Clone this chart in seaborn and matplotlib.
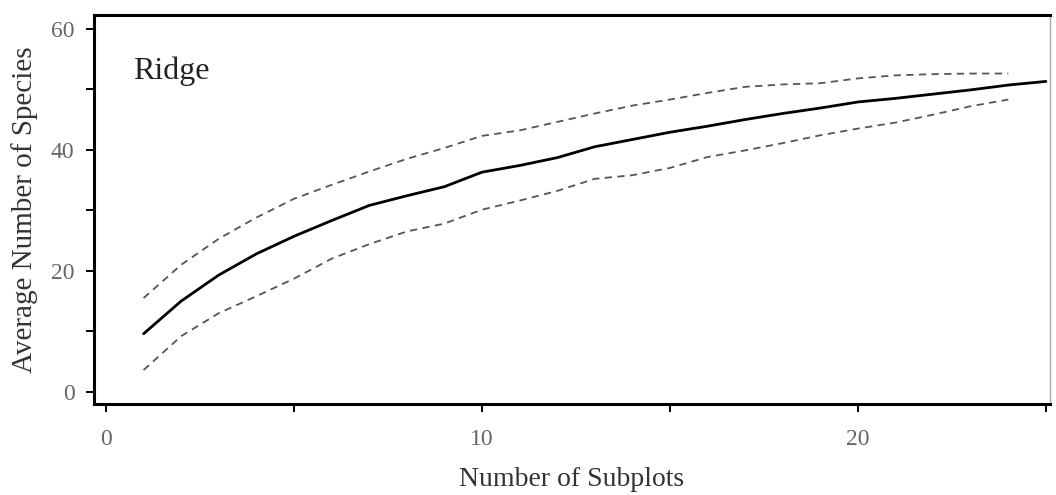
import numpy as np
import pandas as pd
import matplotlib
matplotlib.use("Agg")
import matplotlib.pyplot as plt
from matplotlib.ticker import MultipleLocator
import seaborn as sns

subplots = list(range(1, 26))
mean_species = [9.6, 15.0, 19.3, 22.8, 25.7, 28.3, 30.8, 32.4, 33.9, 36.3,
                37.4, 38.7, 40.5, 41.7, 42.9, 43.9, 45.0, 46.0, 46.9, 47.9,
                48.5, 49.2, 49.9, 50.7, 51.3]
ci_subplots = list(range(1, 25))
upper_ci = [15.5, 21.0, 25.3, 28.8, 31.9, 34.2, 36.4, 38.5, 40.3, 42.3,
            43.2, 44.6, 46.0, 47.3, 48.3, 49.4, 50.4, 50.8, 51.0, 51.8,
            52.3, 52.5, 52.6, 52.6]
lower_ci = [3.6, 9.2, 13.0, 15.8, 18.7, 22.0, 24.4, 26.5, 27.8, 30.1,
            31.6, 33.2, 35.2, 35.8, 37.0, 38.8, 39.9, 41.1, 42.4, 43.5,
            44.5, 45.8, 47.2, 48.3]

sns.set_style("ticks")
plt.rcParams['font.family'] = ['Liberation Serif', 'DejaVu Serif']

fig = plt.figure(figsize=(10.56, 4.95), dpi=100)
ax = fig.add_axes([0.089, 0.184, 0.905, 0.786])

df_mean = pd.DataFrame({"x": subplots, "y": mean_species})
df_up = pd.DataFrame({"x": ci_subplots, "y": upper_ci})
df_lo = pd.DataFrame({"x": ci_subplots, "y": lower_ci})

sns.lineplot(data=df_up, x="x", y="y", ax=ax, color="#555555", lw=1.3,
             linestyle=(0, (4, 3)))
sns.lineplot(data=df_lo, x="x", y="y", ax=ax, color="#555555", lw=1.3,
             linestyle=(0, (4, 3)))
sns.lineplot(data=df_mean, x="x", y="y", ax=ax, color="black", lw=2.0)

ax.set_xlim(-0.32, 25.1)
ax.set_ylim(-2, 62.3)
ax.xaxis.set_major_locator(MultipleLocator(10))
ax.xaxis.set_minor_locator(MultipleLocator(5))
ax.yaxis.set_major_locator(MultipleLocator(20))
ax.yaxis.set_minor_locator(MultipleLocator(10))
ax.tick_params(which="both", direction="out", color="black", width=1.4, length=6)
ax.tick_params(axis="x", which="major", labelsize=17, labelcolor="#666666", pad=12)
ax.tick_params(axis="y", which="major", labelsize=17, labelcolor="#666666", pad=8)

for side in ["left", "bottom", "top"]:
    ax.spines[side].set_linewidth(2.2)
    ax.spines[side].set_color("black")
ax.spines["right"].set_linewidth(1.0)
ax.spines["right"].set_color("#aaaaaa")

ax.set_xlabel("Number of Subplots", fontsize=20, color="#333333", labelpad=12)
ax.set_ylabel("Average Number of Species", fontsize=21, color="#333333", labelpad=9)
ax.text(0.041, 0.835, "Ridge", transform=ax.transAxes, fontsize=23, color="#222222")

fig.savefig("out.png", dpi=100)
